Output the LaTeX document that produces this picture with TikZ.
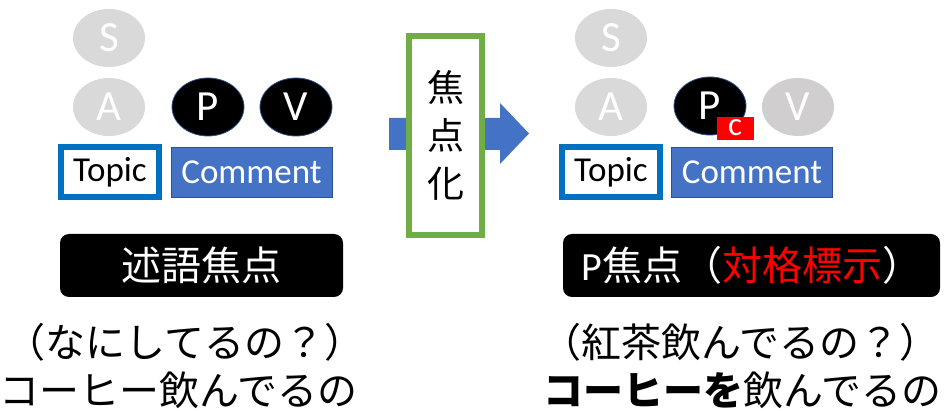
\documentclass[tikz,border=0pt]{standalone}
\usepackage{fontspec}
\setmainfont{Carlito}
\newfontfamily\jp{Noto Sans CJK JP}
\usetikzlibrary{shapes.geometric}
\definecolor{ovalgray}{HTML}{D9D9D9}
\definecolor{ovalgrayb}{HTML}{D0CECE}
\definecolor{edgeblue}{HTML}{2F528F}
\definecolor{topicblue}{HTML}{0070C0}
\definecolor{commentblue}{HTML}{4472C4}
\definecolor{focusgreen}{HTML}{70AD47}
\tikzset{
  oval/.style={ellipse, minimum width=72pt, minimum height=58pt, inner sep=0pt,
    font=\fontsize{43}{43}\selectfont},
  grayoval/.style={oval, fill=ovalgray, text=white},
  blackoval/.style={oval, fill=black, draw=edgeblue, line width=0.8pt, text=white},
  topicbox/.style={draw=topicblue, line width=6pt, fill=white, minimum width=98pt,
    minimum height=50pt, inner sep=0pt, font=\fontsize{35}{35}\selectfont},
  commentbox/.style={draw=edgeblue, line width=0.8pt, fill=commentblue, text=white,
    minimum width=161pt, minimum height=50pt, inner sep=0pt,
    font=\fontsize{35}{35}\selectfont},
  labelbox/.style={fill=black, rounded corners=9pt, minimum height=63pt},
  jptext/.style={font=\jp\fontsize{40}{40}\selectfont}
}
\begin{document}
\begin{tikzpicture}[x=1pt,y=-1pt]
\useasboundingbox (0,0) rectangle (944,411);

% left side
\node[grayoval] (S1) at (109,38) {S};
\node[grayoval] (A1) at (109,107) {A};
\node[blackoval] (P1) at (208,107) {P};
\node[blackoval] (V1) at (296,107) {V};
\node[topicbox] (topic1) at (110,172) {Topic};
\node[commentbox] (comment1) at (251.5,172) {Comment};

% arrow and focus box
\fill[commentblue] (389,118) -- (500,118) -- (500,103) -- (529,133.5)
  -- (500,164) -- (500,150) -- (389,150) -- cycle;
\node[draw=focusgreen, line width=6pt, fill=white, minimum width=73pt,
  minimum height=199pt, align=center,
  font=\jp\fontsize{37}{48}\selectfont] (focus) at (445.5,135.5) {焦\\点\\化};

% right side
\node[grayoval] (S2) at (611,38) {S};
\node[grayoval] (A2) at (611,107) {A};
\node[blackoval] (P2) at (710,106) {P};
\node[grayoval, fill=ovalgrayb] (V2) at (798,107) {V};
\node[draw=edgeblue, line width=0.8pt, fill=red, text=white, minimum width=36pt,
  minimum height=22pt, inner sep=0pt, font=\fontsize{33}{33}\selectfont]
  (case) at (735,128) {c};
\node[topicbox] (topic2) at (611,172) {Topic};
\node[commentbox] (comment2) at (752,172) {Comment};

% labels
\node[labelbox, minimum width=283pt] (pred) at (201.5,265.5) {};
\node[jptext, text=white] at (pred) {述語焦点};
\node[labelbox, minimum width=377pt] (pfoc) at (751.5,265.5) {};
\node[jptext, text=white] at (752,265.5)
  {\fontspec{Carlito}P\jp 焦点（\textcolor{red}{対格標示}）};

% examples
\node[jptext] (q1) at (185,342) {（なにしてるの？）};
\node[jptext] (a1) at (178,390) {コーヒー飲んでるの};
\node[jptext] (q2) at (740,342) {（紅茶飲んでるの？）};
\node[jptext] (a2) at (742,390) {\textbf{コーヒーを}飲んでるの};
\end{tikzpicture}
\end{document}
